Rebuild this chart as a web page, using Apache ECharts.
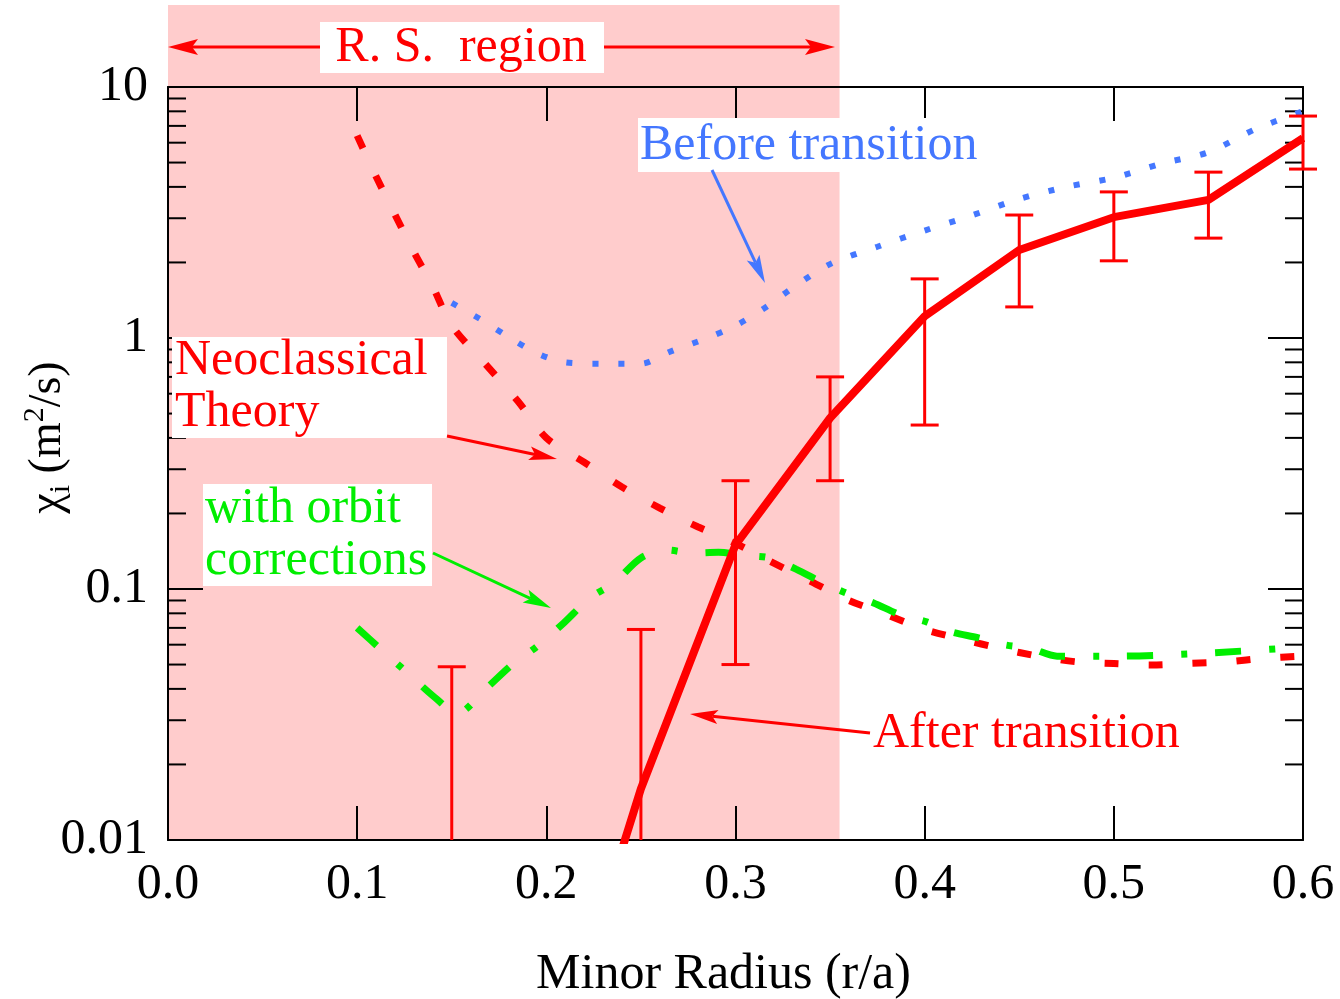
<!DOCTYPE html>
<html><head><meta charset="utf-8">
<script src="https://cdn.jsdelivr.net/npm/echarts@6/dist/echarts.min.js"></script>
<style>html,body{margin:0;padding:0;background:#fff}#c{width:1340px;height:999px}</style>
</head><body><div id="c"></div>
<script>
// ---------- data ----------
const xTickLabels = ['0.0','0.1','0.2','0.3','0.4','0.5','0.6'];
const yTickLabels = ['0.01','0.1','1','10'];
const minorTickValues = [0.02,0.03,0.04,0.05,0.06,0.07,0.08,0.09,0.2,0.3,0.4,0.5,0.6,0.7,0.8,0.9,2,3,4,5,6,7,8,9];
const rsRegion = [0, 0.355];

// After transition (solid red)
const afterX = [0.20, 0.25, 0.30, 0.35, 0.40, 0.45, 0.50, 0.55, 0.60];
const afterY = [0.001, 0.016, 0.15, 0.48, 1.22, 2.24, 3.03, 3.55, 6.26];
// Error bars
const errX    = [0.15, 0.25, 0.30, 0.35, 0.40, 0.45, 0.50, 0.55, 0.60];
const errHigh = [0.049, 0.069, 0.27, 0.70, 1.72, 3.09, 3.82, 4.58, 7.66];
const errLow  = [0.001, 0.001, 0.050, 0.27, 0.45, 1.33, 2.03, 2.50, 4.71];

// Before transition (blue dotted)
const beforeX = [0.15,0.165,0.18,0.195,0.21,0.23,0.25,0.265,0.285,0.30,0.315,0.33,0.35,0.375,0.40,0.425,0.45,0.475,0.50,0.525,0.55,0.575,0.60];
const beforeY = [1.38,1.19,1.01,0.87,0.80,0.79,0.79,0.88,1.00,1.12,1.31,1.58,1.97,2.31,2.68,3.08,3.58,4.00,4.35,4.95,5.50,6.80,8.00];

// Neoclassical theory (red dashed)
const neoX = [0.10,0.11,0.12,0.13,0.14,0.15,0.167,0.185,0.20,0.22,0.24,0.26,0.28,0.30,0.32,0.34,0.36,0.38,0.40,0.42,0.44,0.46,0.48,0.50,0.52,0.54,0.56,0.58,0.60];
const neoY = [6.4,4.4,3.1,2.2,1.6,1.12,0.80,0.56,0.40,0.32,0.255,0.21,0.177,0.152,0.127,0.107,0.090,0.079,0.069,0.063,0.058,0.054,0.0513,0.0505,0.0498,0.0505,0.0513,0.053,0.054];

// With orbit corrections (green dash-dot)
const orbitX = [0.10,0.112,0.127,0.141,0.153,0.168,0.182,0.195,0.209,0.223,0.236,0.25,0.264,0.277,0.291,0.305,0.318,0.332,0.346,0.359,0.373,0.387,0.401,0.414,0.428,0.442,0.456,0.47,0.50,0.55,0.60];
const orbitY = [0.070,0.058,0.046,0.037,0.032,0.040,0.050,0.059,0.073,0.092,0.106,0.133,0.143,0.139,0.140,0.136,0.133,0.120,0.106,0.096,0.088,0.079,0.074,0.0675,0.064,0.060,0.058,0.054,0.054,0.0556,0.0587];

// ---------- helpers ----------
const zip = (a, b) => a.map((v, i) => [v, b[i]]);
const FONT = 'Liberation Serif';
const RED = '#ff0000', GREEN = '#00ee00', BLUE = '#4477ff', PINK = '#ffcccc';
const Y_MIN = 0.01, Y_MAX = 10;

function arrow(x1, y1, x2, y2, color, w, hl, hw) {
  const a = Math.atan2(y2 - y1, x2 - x1);
  const c = Math.cos(a), s = Math.sin(a);
  const bx = x2 - hl * c, by = y2 - hl * s;
  const ix = x2 - hl * 0.8 * c, iy = y2 - hl * 0.8 * s;
  const px = -s * hw / 2, py = c * hw / 2;
  return [
    {type: 'line', z: 100, shape: {x1: x1, y1: y1, x2: ix, y2: iy}, style: {stroke: color, lineWidth: w}},
    {type: 'polygon', z: 100, shape: {points: [[x2, y2], [bx + px, by + py], [ix, iy], [bx - px, by - py]]}, style: {fill: color}}
  ];
}
function box(x, y, w, h) {
  return {type: 'rect', z: 99, shape: {x: x, y: y, width: w, height: h}, style: {fill: '#ffffff'}};
}
function txt(t, x, y, color, align) {
  return {type: 'text', z: 101, x: x, y: y, style: {text: t, fill: color, font: '50px "' + FONT + '"', textAlign: align || 'left', textVerticalAlign: 'middle'}};
}

const axisLineStyle = {color: '#000', width: 2};
const labelStyle = {fontFamily: FONT, fontSize: 50, color: '#000'};

const chart = echarts.init(document.getElementById('c'), null, {renderer: 'canvas'});

const graphics = [].concat(
  [box(320, 22, 284, 51), txt('R. S.  region', 461, 48, RED, 'center')],
  arrow(320, 47, 168, 47, RED, 3, 30, 16),
  arrow(604, 47, 835, 47, RED, 3, 30, 16),
  [box(638, 118, 347, 54), txt('Before transition', 640, 146, BLUE)],
  arrow(712, 170, 765, 283, BLUE, 3, 28, 14),
  [box(172, 337, 275, 101), txt('Neoclassical', 175, 361, RED), txt('Theory', 175, 413, RED)],
  arrow(447, 436, 557, 459, RED, 3, 28, 14),
  [box(203, 484, 229, 102), txt('with orbit', 205, 509, GREEN), txt('corrections', 205, 561, GREEN)],
  arrow(433, 553, 551, 608, GREEN, 3, 28, 14),
  [txt('After transition', 873, 734, RED)],
  arrow(870, 733, 690, 714, RED, 3, 28, 14)
);

const option = {
  animation: false,
  backgroundColor: '#ffffff',
  grid: {left: 168, top: 87, width: 1135, height: 753, containLabel: false, outerBoundsMode: 'none'},
  xAxis: [{
    type: 'value', position: 'bottom', min: 0, max: 0.6, interval: 0.1,
    axisLine: {show: true, onZero: false, lineStyle: axisLineStyle},
    axisTick: {show: true, inside: true, length: 34, lineStyle: {color: '#000', width: 2}},
    axisLabel: Object.assign({margin: 20, formatter: (v) => xTickLabels[Math.round(v * 10)] || ''}, labelStyle),
    splitLine: {show: false},
    name: 'Minor Radius (r/a)', nameLocation: 'middle', nameGap: 110, nameMoveOverlap: false,
    nameTextStyle: {fontFamily: FONT, fontSize: 50, color: '#000', padding: [0, 24, 0, 0]}
  }, {
    type: 'value', position: 'top', min: 0, max: 0.6, interval: 0.1,
    axisLine: {show: true, onZero: false, lineStyle: axisLineStyle},
    axisTick: {show: true, inside: true, length: 34, lineStyle: {color: '#000', width: 2}},
    axisLabel: {show: false}, splitLine: {show: false}
  }],
  yAxis: [{
    type: 'log', logBase: 10, position: 'left', min: Y_MIN, max: Y_MAX,
    axisLine: {show: true, onZero: false, lineStyle: axisLineStyle},
    axisTick: {show: true, inside: true, length: 35, lineStyle: {color: '#000', width: 2}},
    axisLabel: Object.assign({margin: 20, formatter: (v) => {
      const hit = yTickLabels.find(s => Math.abs(Math.log10(+s) - Math.log10(v)) < 1e-6);
      return hit || '';
    }}, labelStyle),
    splitLine: {show: false},
    name: '{t|χ}{sub|i}{t| (m}{sup|2}{t|/s)}', nameLocation: 'middle', nameGap: 92, nameRotate: 90, nameMoveOverlap: false,
    nameTextStyle: {
      color: '#000', padding: [0, 0, 0, 52],
      rich: {
        t: {fontFamily: FONT, fontSize: 46, color: '#000', lineHeight: 56},
        sub: {fontFamily: FONT, fontSize: 30, color: '#000', verticalAlign: 'bottom', lineHeight: 56},
        sup: {fontFamily: FONT, fontSize: 30, color: '#000', verticalAlign: 'top', lineHeight: 56}
      }
    }
  }, {
    type: 'log', logBase: 10, position: 'right', min: Y_MIN, max: Y_MAX,
    axisLine: {show: true, onZero: false, lineStyle: axisLineStyle},
    axisTick: {show: true, inside: true, length: 35, lineStyle: {color: '#000', width: 2}},
    axisLabel: {show: false}, splitLine: {show: false}
  }],
  graphic: graphics,
  series: [
    {
      name: 'R.S. region', type: 'custom', z: -1, silent: true, clip: false,
      data: [[rsRegion[0], rsRegion[1]]],
      encode: {x: [0, 1]},
      renderItem: (params, api) => {
        const p0 = api.coord([api.value(0), Y_MIN]);
        const p1 = api.coord([api.value(1), Y_MAX]);
        const top = 5;
        return {type: 'rect', shape: {x: p0[0], y: top, width: p1[0] - p0[0], height: p0[1] - top}, style: {fill: PINK}};
      }
    },
    {
      name: 'minor ticks', type: 'custom', z: 1, silent: true, clip: false,
      data: minorTickValues.map(v => [0, v]),
      encode: {x: 0, y: 1},
      renderItem: (params, api) => {
        const cs = params.coordSys;
        const p = api.coord([0, api.value(1)]);
        const st = {stroke: '#000', lineWidth: 2};
        return {type: 'group', children: [
          {type: 'line', shape: {x1: cs.x, y1: p[1], x2: cs.x + 18, y2: p[1]}, style: st},
          {type: 'line', shape: {x1: cs.x + cs.width - 18, y1: p[1], x2: cs.x + cs.width, y2: p[1]}, style: st}
        ]};
      }
    },
    {
      name: 'Before transition', type: 'line', data: zip(beforeX, beforeY), symbol: 'none', smooth: 0.3,
      lineStyle: {color: BLUE, width: 6, type: [6, 20], cap: 'butt'}, z: 3
    },
    {
      name: 'Neoclassical Theory', type: 'line', data: zip(neoX, neoY), symbol: 'none', smooth: 0.3,
      lineStyle: {color: RED, width: 7, type: [14, 30], cap: 'butt'}, z: 3
    },
    {
      name: 'with orbit corrections', type: 'line', data: zip(orbitX, orbitY), symbol: 'none', smooth: 0.3,
      lineStyle: {color: GREEN, width: 7, type: [26, 28, 6, 28], cap: 'butt'}, z: 4
    },
    {
      name: 'After transition', type: 'line', data: zip(afterX, afterY), symbol: 'none', clip: true,
      lineStyle: {color: RED, width: 8, type: 'solid'}, z: 5
    },
    {
      name: 'error bars', type: 'custom', z: 6, silent: true, clip: false,
      data: errX.map((x, i) => [x, errLow[i], errHigh[i]]),
      encode: {x: 0, y: [1, 2]},
      renderItem: (params, api) => {
        const cs = params.coordSys;
        const x = api.value(0), lo = api.value(1), hi = api.value(2);
        const pHi = api.coord([x, hi]);
        const st = {stroke: RED, lineWidth: 3};
        const half = 14;
        const children = [{type: 'line', shape: {x1: pHi[0] - half, y1: pHi[1], x2: pHi[0] + half, y2: pHi[1]}, style: st}];
        let yLo;
        if (lo < Y_MIN) {
          yLo = cs.y + cs.height;
        } else {
          const pLo = api.coord([x, lo]);
          yLo = pLo[1];
          children.push({type: 'line', shape: {x1: pLo[0] - half, y1: yLo, x2: pLo[0] + half, y2: yLo}, style: st});
        }
        children.push({type: 'line', shape: {x1: pHi[0], y1: pHi[1], x2: pHi[0], y2: yLo}, style: st});
        return {type: 'group', children: children};
      }
    }
  ]
};
chart.setOption(option);
</script>
</body></html>
